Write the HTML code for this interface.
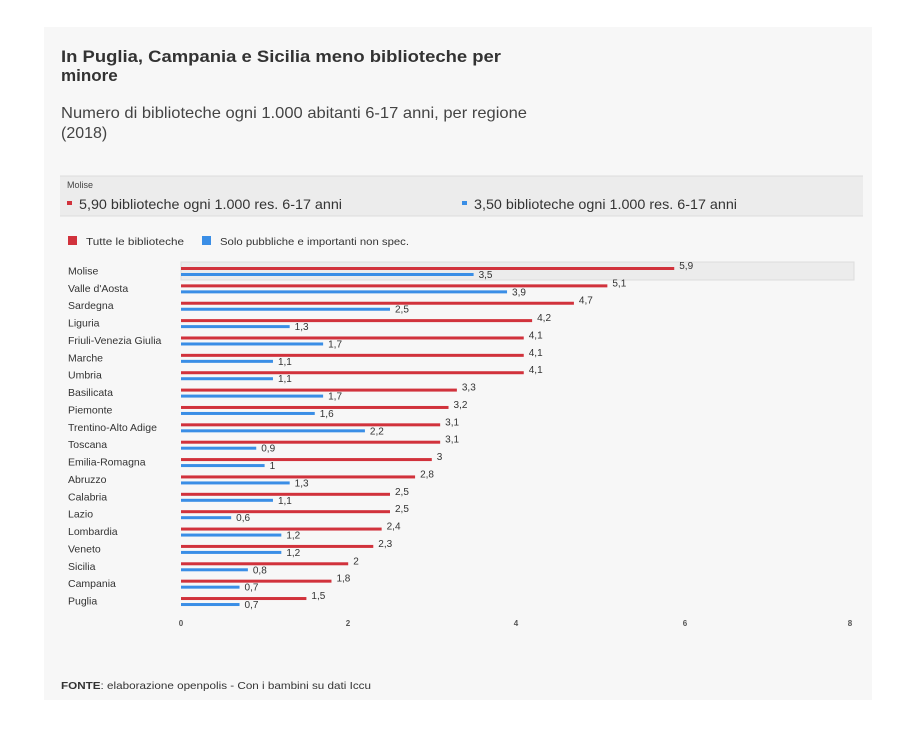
<!DOCTYPE html>
<html><head><meta charset="utf-8"><style>
body{margin:0;background:#fff;width:917px;height:729px;overflow:hidden;font-family:"Liberation Sans",sans-serif}
</style></head><body>
<svg width="917" height="729" xmlns="http://www.w3.org/2000/svg" font-family="Liberation Sans, sans-serif">
<rect x="44" y="27" width="828" height="673" fill="#f7f7f7"/>
<text x="61" y="62" font-size="17" font-weight="bold" fill="#333" textLength="440" lengthAdjust="spacingAndGlyphs">In Puglia, Campania e Sicilia meno biblioteche per</text>
<text x="61" y="81" font-size="17" font-weight="bold" fill="#333">minore</text>
<text x="61" y="118" font-size="16" fill="#444" textLength="466" lengthAdjust="spacingAndGlyphs">Numero di biblioteche ogni 1.000 abitanti 6-17 anni, per regione</text>
<text x="61" y="138" font-size="16" fill="#444">(2018)</text>
<rect x="60" y="176" width="803" height="40" fill="#ececec"/>
<line x1="60" y1="176" x2="863" y2="176" stroke="#ddd"/>
<line x1="60" y1="216" x2="863" y2="216" stroke="#ddd"/>
<text x="67" y="188" font-size="9" fill="#444">Molise</text>
<rect x="67" y="201" width="5" height="4" fill="#d1323c"/>
<text x="79" y="209" font-size="14" fill="#333" textLength="263" lengthAdjust="spacingAndGlyphs">5,90 biblioteche ogni 1.000 res. 6-17 anni</text>
<rect x="462" y="201" width="5" height="4" fill="#3a8ee6"/>
<text x="474" y="209" font-size="14" fill="#333" textLength="263" lengthAdjust="spacingAndGlyphs">3,50 biblioteche ogni 1.000 res. 6-17 anni</text>
<rect x="68" y="236" width="9" height="9" fill="#d1323c"/>
<text x="86" y="245" font-size="10.5" fill="#333" textLength="98" lengthAdjust="spacingAndGlyphs">Tutte le biblioteche</text>
<rect x="202" y="236" width="9" height="9" fill="#3a8ee6"/>
<text x="220" y="245" font-size="10.5" fill="#333" textLength="189" lengthAdjust="spacingAndGlyphs">Solo pubbliche e importanti non spec.</text>
<rect x="181" y="262" width="673" height="18" fill="#ececec" stroke="#ddd"/>
<g id="rows" font-size="10.5" fill="#333"></g>
<g font-size="8" fill="#555" text-anchor="middle" font-weight="bold">
<text x="181" y="626">0</text><text x="348" y="626">2</text><text x="516" y="626">4</text><text x="685" y="626">6</text><text x="850" y="626">8</text>
</g>
<text x="61" y="689" font-size="10.5" fill="#333" textLength="310" lengthAdjust="spacingAndGlyphs"><tspan font-weight="bold">FONTE</tspan>: elaborazione openpolis - Con i bambini su dati Iccu</text>
</svg>
<script>
var d=[["Molise",5.9,3.5],["Valle d'Aosta",5.1,3.9],["Sardegna",4.7,2.5],["Liguria",4.2,1.3],["Friuli-Venezia Giulia",4.1,1.7],["Marche",4.1,1.1],["Umbria",4.1,1.1],["Basilicata",3.3,1.7],["Piemonte",3.2,1.6],["Trentino-Alto Adige",3.1,2.2],["Toscana",3.1,0.9],["Emilia-Romagna",3,1],["Abruzzo",2.8,1.3],["Calabria",2.5,1.1],["Lazio",2.5,0.6],["Lombardia",2.4,1.2],["Veneto",2.3,1.2],["Sicilia",2,0.8],["Campania",1.8,0.7],["Puglia",1.5,0.7]];
var g=document.getElementById('rows'),s='',x0=181,k=83.6;
function f(v){return String(v).replace('.',',');}
d.forEach(function(r,i){var c=271+i*17.37;
s+='<text x="68" y="'+(c+3.5)+'">'+r[0]+'</text>';
var wr=r[1]*k,wb=r[2]*k;
s+='<rect x="'+x0+'" y="'+(c-4)+'" width="'+wr+'" height="3" fill="#d1323c"/>';
s+='<rect x="'+x0+'" y="'+(c+2)+'" width="'+wb+'" height="3" fill="#3a8ee6"/>';
s+='<text x="'+(x0+wr+5)+'" y="'+(c-2)+'" font-size="10">'+f(r[1])+'</text>';
s+='<text x="'+(x0+wb+5)+'" y="'+(c+7)+'" font-size="10">'+f(r[2])+'</text>';});
g.innerHTML=s;
</script>
</body></html>
